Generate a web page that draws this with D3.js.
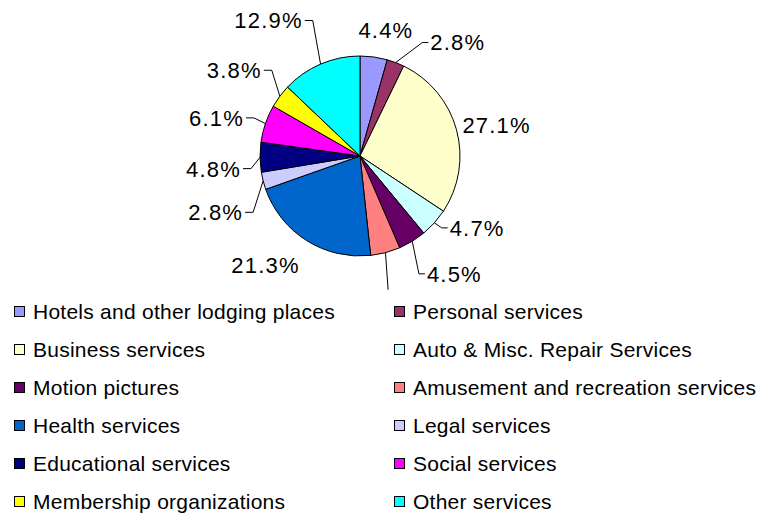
<!DOCTYPE html>
<html>
<head>
<meta charset="utf-8">
<script src="https://cdn.jsdelivr.net/npm/d3@7"></script>
<style>
  body { margin: 0; background: #fff; }
  svg { display: block; font-family: "Liberation Sans", Arial, sans-serif; }
</style>
</head>
<body>
<div class="chart"></div>
<script>
// data
var categories = ["Hotels and other lodging places", "Personal services", "Business services",
    "Auto & Misc. Repair Services", "Motion pictures", "Amusement and recreation services",
    "Health services", "Legal services", "Educational services", "Social services",
    "Membership organizations", "Other services"];
var shares = [4.4, 2.8, 27.1, 4.7, 4.5, 4.8, 21.3, 2.8, 4.8, 6.1, 3.8, 12.9];
var colors = ["#9999ff", "#993366", "#ffffcc", "#ccffff", "#660066", "#ff8080",
    "#0066cc", "#ccccff", "#000080", "#ff00ff", "#ffff00", "#00ffff"];

// label layout (Excel-style hand placement)
var labelAnchor = ["middle", "start", "start", "start", "start", "middle",
    "end", "end", "end", "end", "end", "end"];
var labelNudge = [[8, 3], [24, 8], [-23, 3], [-7, -15], [-1, 7], [-5, 20],
    [9, -1], [9, 24], [11, 11], [7, 4], [6, -8], [-6, -16]];
var hasLeader = [false, true, false, true, true, true, false, true, true, true, true, true];

var width = 763, height = 514;
var cx = 360, cy = 156, radius = 100, labelRadius = 130;

var svg = d3.select('.chart').append('svg')
    .attr('width', width)
    .attr('height', height);

svg.append('defs').append('clipPath')
    .attr('id', 'plotclip')
    .append('rect')
    .attr('x', 0).attr('y', 0)
    .attr('width', width).attr('height', 293);

var pie = d3.pie().sort(null).value(function (d) { return d; });
var arcs = pie(shares);
var arc = d3.arc().innerRadius(0).outerRadius(radius);

function polar(a, r) {
    return [Math.sin(a) * r, -Math.cos(a) * r];
}

var plot = svg.append('g')
    .attr('clip-path', 'url(#plotclip)')
    .append('g')
    .attr('transform', 'translate(' + cx + ',' + cy + ')');

plot.selectAll('path.slice')
    .data(arcs)
    .enter().append('path')
    .attr('class', 'slice')
    .attr('d', arc)
    .style('fill', function (d, i) { return colors[i]; })
    .style('stroke', '#000')
    .style('stroke-width', 1);

// label positions
var labelPos = arcs.map(function (d, i) {
    var mid = (d.startAngle + d.endAngle) / 2;
    var p = polar(mid, labelRadius);
    return [p[0] + labelNudge[i][0], p[1] + labelNudge[i][1]];
});

// leader lines
var leader = d3.line();
plot.selectAll('path.leader')
    .data(arcs.filter(function (d, i) { return hasLeader[i]; }))
    .enter().append('path')
    .attr('class', 'leader')
    .attr('d', function (d) {
        var i = d.index;
        var mid = (d.startAngle + d.endAngle) / 2;
        var e = polar(mid, radius);
        var t = labelPos[i];
        var pts;
        if (labelAnchor[i] == "start") {
            pts = [[t[0] - 2, t[1]], [t[0] - 8, t[1]], e];
        } else if (labelAnchor[i] == "end") {
            pts = [[t[0] + 2, t[1]], [t[0] + 10, t[1]], e];
        } else {
            pts = [[t[0], t[1] - 12], e];
        }
        return leader(pts);
    })
    .style('fill', 'none')
    .style('stroke', '#000')
    .style('stroke-width', 1);

plot.selectAll('text.pct')
    .data(arcs)
    .enter().append('text')
    .attr('class', 'pct')
    .attr('x', function (d, i) { return labelPos[i][0]; })
    .attr('y', function (d, i) { return labelPos[i][1]; })
    .attr('dy', '0.36em')
    .attr('text-anchor', function (d, i) { return labelAnchor[i]; })
    .style('font-size', '22px')
    .style('letter-spacing', '1.2px')
    .style('fill', '#000')
    .text(function (d) { return d3.format('.1f')(d.data) + '%'; });

// legend
var legend = svg.append('g');
var item = legend.selectAll('g.item')
    .data(categories)
    .enter().append('g')
    .attr('class', 'item')
    .attr('transform', function (d, i) {
        var col = i % 2, row = Math.floor(i / 2);
        return 'translate(' + (col ? 394 : 14) + ',' + (319 + row * 38) + ')';
    });

item.append('rect')
    .attr('x', 0.5).attr('y', -12.5)
    .attr('width', 10).attr('height', 10)
    .style('fill', function (d, i) { return colors[i]; })
    .style('stroke', '#000')
    .style('stroke-width', 1);

item.append('text')
    .attr('x', 19)
    .attr('y', 0)
    .style('font-size', '21px')
    .style('letter-spacing', '0.25px')
    .style('fill', '#000')
    .text(function (d) { return d; });
</script>
</body>
</html>
